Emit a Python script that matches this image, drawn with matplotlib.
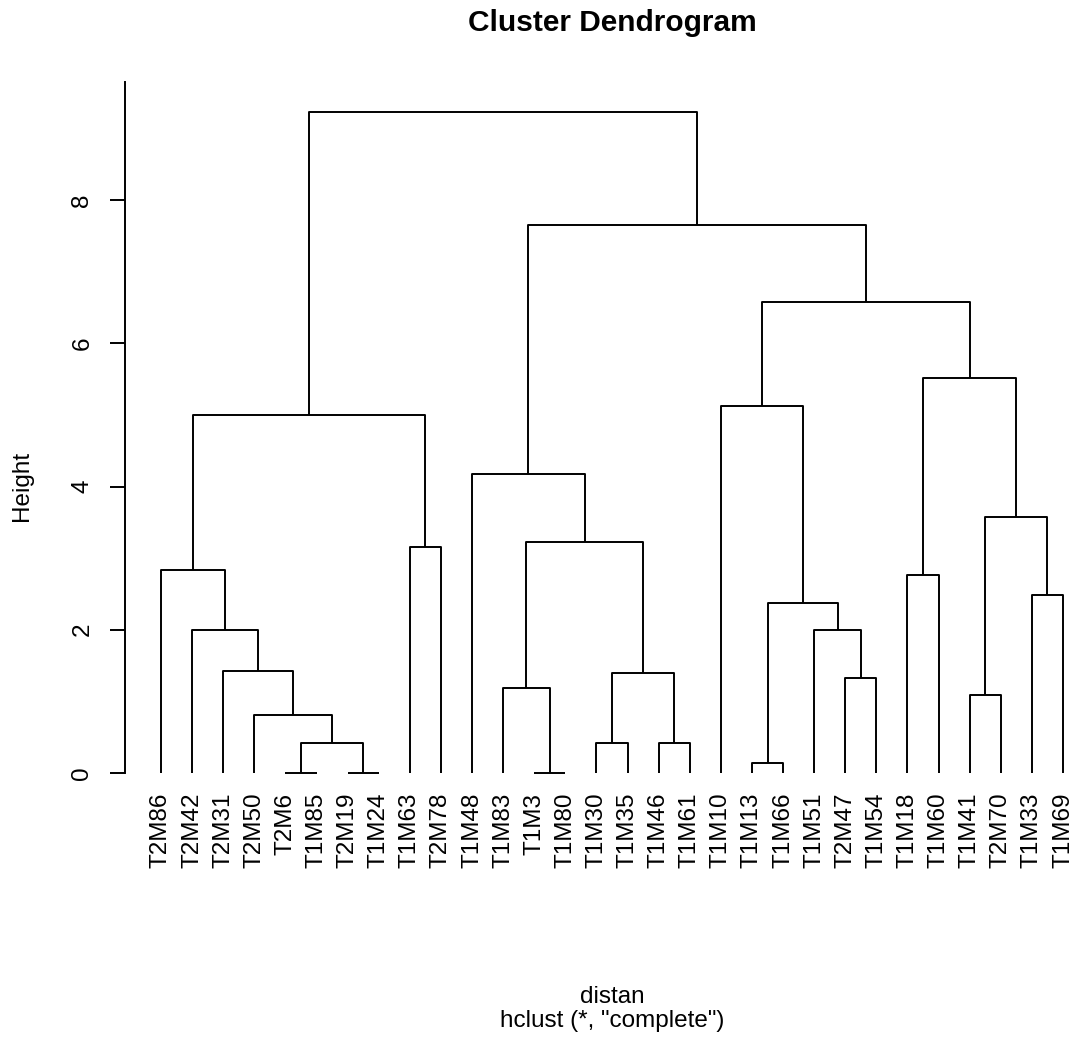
import numpy as np
import matplotlib.pyplot as plt

plt.rcParams['font.family'] = ['Liberation Sans', 'DejaVu Sans']

# leaves in dendrogram order
labels = ['T2M86', 'T2M42', 'T2M31', 'T2M50', 'T2M6', 'T1M85', 'T2M19', 'T1M24',
          'T1M63', 'T2M78', 'T1M48', 'T1M83', 'T1M3', 'T1M80', 'T1M30', 'T1M35',
          'T1M46', 'T1M61', 'T1M10', 'T1M13', 'T1M66', 'T1M51', 'T2M47', 'T1M54',
          'T1M18', 'T1M60', 'T1M41', 'T2M70', 'T1M33', 'T1M69']

# merge table like R's hclust: negative = leaf (1-based order), positive = earlier merge
merge_left = [-5, -7, -13, -20, 1, -15, -17, -4, -27, -12, -23, 6, -3, -2, -22,
              4, -29, -25, -1, -9, 10, 9, -11, 19, -19, 18, 25, 23, 24]
merge_right = [-6, -8, -14, -21, 2, -16, -18, 5, -28, 3, -24, 7, 8, 13, 11,
               15, -30, -26, 14, -10, 12, 17, 21, 20, 16, 22, 26, 27, 28]
merge_height = [0.0, 0.0, 0.0, 0.13, 0.41, 0.41, 0.41, 0.81, 1.09, 1.18, 1.33, 1.40,
                1.42, 2.00, 2.00, 2.37, 2.48, 2.76, 2.83, 3.15, 3.22, 3.57, 4.18,
                5.00, 5.13, 5.52, 6.58, 7.65, 9.23]

W, H = 1078, 1043
fig = plt.figure(figsize=(W / 100, H / 100), dpi=100)

# plot region in pixels
px_left, px_right = 156, 1068
y0_px, ppu = 772.7, 71.55
ylo, yhi = -0.37, 9.66
px_top = y0_px - yhi * ppu
px_bot = y0_px - ylo * ppu
ax = fig.add_axes([px_left / W, 1 - px_bot / H, (px_right - px_left) / W, (px_bot - px_top) / H])

n = len(labels)
ax.set_xlim(1 - 0.16, n + 0.16)
ax.set_ylim(ylo, yhi)

lw = 1.4
coords = {}
def get_xy(i):
    if i < 0:
        return -i, 0.0
    return coords[i]

for k, (a, b, h) in enumerate(zip(merge_left, merge_right, merge_height), start=1):
    xa, ya = get_xy(a)
    xb, yb = get_xy(b)
    ax.plot([xa, xa, xb, xb], [ya, h, h, yb], color='black', lw=lw, solid_capstyle='butt')
    coords[k] = ((xa + xb) / 2, h)

for i, lab in enumerate(labels, start=1):
    ax.annotate(lab, xy=(i, 0), xytext=(0, -14.5), textcoords='offset points',
                rotation=90, ha='center', va='top', fontsize=17.5)

for s in ['top', 'right', 'bottom']:
    ax.spines[s].set_visible(False)
ax.spines['left'].set_position(('outward', 31 * 0.72))
ax.spines['left'].set_bounds(0, yhi)
ax.spines['left'].set_linewidth(lw)
ax.set_xticks([])
ax.set_yticks([0, 2, 4, 6, 8])
ax.tick_params(axis='y', length=15 * 0.72, width=lw, labelsize=17.5, pad=12)
for t in ax.get_yticklabels():
    t.set_rotation(90)
    t.set_va('center')

cx = (px_left + px_right) / 2 / W
fig.text(cx, 1 - 23 / H, 'Cluster Dendrogram', ha='center', va='center',
         fontsize=21.5, fontweight='bold')
fig.text(cx, 1 - 997 / H, 'distan', ha='center', va='center', fontsize=17.5)
fig.text(cx, 1 - 1021 / H, 'hclust (*, "complete")', ha='center', va='center', fontsize=17.5)
fig.text(22 / W, 1 - 486 / H, 'Height', ha='center', va='center', rotation=90, fontsize=17.5)

fig.savefig('out.png', dpi=100)
